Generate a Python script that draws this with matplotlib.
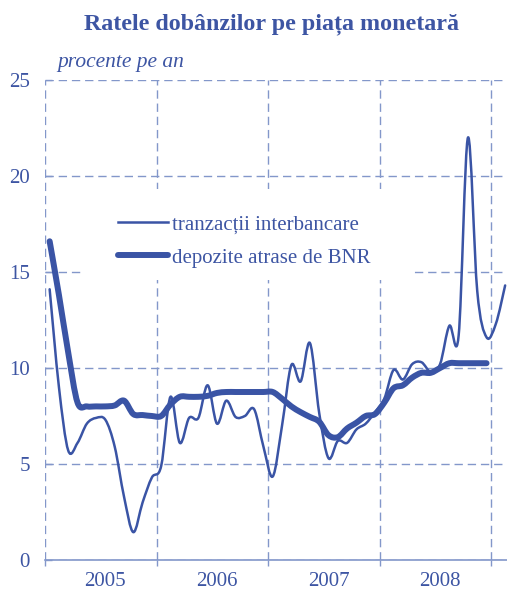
import numpy as np
import matplotlib.pyplot as plt
from matplotlib.path import Path
from matplotlib.patches import PathPatch, Rectangle
from matplotlib.lines import Line2D

# monthly values, Jan 2005 onwards (percent per year)
interbank_rate = [14.1, 9.0, 5.7, 6.1, 7.1, 7.4, 7.3, 5.9, 3.3, 1.45,
                  3.0, 4.3, 4.9, 8.5, 6.1, 7.4, 7.4, 9.1, 7.1, 8.3,
                  7.45, 7.5, 7.85, 5.9, 4.35, 7.0, 10.15, 9.3, 11.3, 7.65,
                  5.3, 6.2, 6.1, 6.8, 7.1, 7.7, 8.4, 9.9, 9.4, 10.2,
                  10.3, 9.8, 10.2, 12.2, 11.7, 22.0, 14.0, 11.6, 12.3, 14.3]
deposit_rate = [16.6, 13.8, 10.8, 8.2, 8.0, 8.0, 8.0, 8.05, 8.3, 7.6,
                7.55, 7.5, 7.5, 8.1, 8.5, 8.5, 8.5, 8.55, 8.7, 8.75,
                8.75, 8.75, 8.75, 8.75, 8.75, 8.4, 8.0, 7.7, 7.45, 7.2,
                6.5, 6.4, 6.85, 7.15, 7.5, 7.6, 8.2, 8.95, 9.1, 9.5,
                9.75, 9.75, 10.0, 10.25, 10.25, 10.25, 10.25, 10.25]
years = ["2005", "2006", "2007", "2008"]
series_labels = ["tranzacții interbancare", "depozite atrase de BNR"]

LINE = "#3a54a5"
GRID = "#8397ca"
TEXT = "#3d55a3"
plt.rcParams["font.family"] = ["Liberation Serif", "DejaVu Serif"]


def smooth_path(x, y, t=1 / 6):
    """Excel-style smoothed line as cubic Bezier segments."""
    n = len(x)
    verts = [(x[0], y[0])]
    codes = [Path.MOVETO]
    for i in range(n - 1):
        i0, i3 = max(i - 1, 0), min(i + 2, n - 1)
        c1 = (x[i] + (x[i + 1] - x[i0]) * t, y[i] + (y[i + 1] - y[i0]) * t)
        c2 = (x[i + 1] - (x[i3] - x[i]) * t, y[i + 1] - (y[i3] - y[i]) * t)
        verts += [c1, c2, (x[i + 1], y[i + 1])]
        codes += [Path.CURVE4] * 3
    return Path(verts, codes)


fig = plt.figure(figsize=(5.07, 5.91), dpi=100)
ax = fig.add_axes([45 / 507, 31 / 591, 462 / 507, 480 / 591])
ax.set_xlim(0, 49.7)
ax.set_ylim(0, 25)

x_ib = np.arange(len(interbank_rate)) + 0.5
x_dep = np.arange(len(deposit_rate)) + 0.5
ax.add_patch(PathPatch(smooth_path(x_ib, interbank_rate), fill=False, edgecolor=LINE,
                       lw=1.8, capstyle="round", joinstyle="round", zorder=3))
ax.add_patch(PathPatch(smooth_path(x_dep, deposit_rate), fill=False, edgecolor=LINE,
                       lw=4.3, capstyle="round", joinstyle="round", zorder=3))

# axes styling
for s in ["left", "top", "right"]:
    ax.spines[s].set_visible(False)
ax.spines["bottom"].set_color(GRID)
ax.spines["bottom"].set_linewidth(1.2)
ax.set_axisbelow(True)

ax.set_yticks(range(0, 26, 5))
ax.tick_params(axis="y", direction="in", length=5, width=1, color=GRID,
               labelsize=15, labelcolor=TEXT, pad=11)
ax.set_xticks([0, 12, 24, 36, 48])
ax.set_xticklabels([])
ax.set_xticks([6.5, 18.5, 30.5, 42.5], minor=True)
ax.set_xticklabels(years, minor=True)
ax.tick_params(axis="x", which="major", direction="out", length=4, width=1, color=GRID)
ax.tick_params(axis="x", which="minor", length=0, labelsize=15, labelcolor=TEXT, pad=9)
ax.grid(True, which="major", color=GRID, lw=1.0, linestyle=(0, (6, 3.5)))

# white legend area hiding the grid
ax.add_patch(Rectangle((0.08, 0.583), 0.717, 0.19, transform=ax.transAxes,
                       facecolor="white", edgecolor="none", zorder=1))
handles = [Line2D([], [], color=LINE, lw=1.8), Line2D([], [], color=LINE, lw=4.3, solid_capstyle="round")]
ax.legend(handles, series_labels, loc="upper left", bbox_to_anchor=(0.14, 0.736),
          frameon=False, fontsize=15, labelcolor=TEXT, handlelength=2.4,
          handletextpad=0.2, labelspacing=0.64, borderaxespad=0)

fig.text(271 / 507, 1 - 24 / 591, "Ratele dobânzilor pe piața monetară", ha="center", va="center",
         fontsize=17.3, fontweight="bold", color=TEXT)
fig.text(57 / 507, 1 - 63 / 591, "procente pe an", ha="left", va="center",
         fontsize=15.5, style="italic", color=TEXT)

fig.savefig("out.png", dpi=100)
